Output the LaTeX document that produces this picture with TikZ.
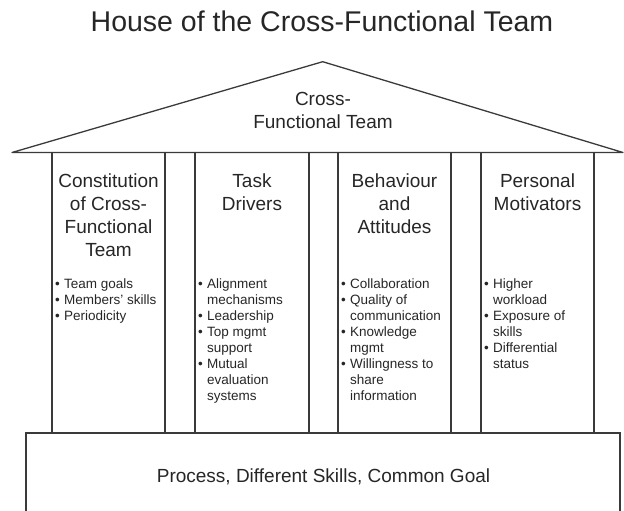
\documentclass[tikz,border=0pt]{standalone}
\usepackage{fontspec}
\setmainfont{Liberation Sans}
\definecolor{linegray}{HTML}{3A3A3A}
\definecolor{textgray}{HTML}{262626}
\newcommand\bitem{\makebox[9pt][l]{\textbullet}}
\newcommand\bcont{\hspace*{9pt}}
\begin{document}
\begin{tikzpicture}[x=1pt,y=-1pt,
  houseline/.style={draw=linegray, line width=1.3pt, line join=round},
  heading/.style={font=\fontsize{19}{23}\selectfont, align=center, inner sep=0pt, anchor=north, text=textgray},
  bullets/.style={font=\fontsize{13.5}{16}\selectfont, align=left, inner sep=0pt, anchor=north west, text=textgray},
  titletext/.style={font=\fontsize{28.5}{34}\selectfont, inner sep=0pt, anchor=base, text=textgray},
  basetext/.style={font=\fontsize{19}{23}\selectfont, inner sep=0pt, anchor=base, text=textgray}]
\useasboundingbox (0,0) rectangle (624,511);

% title
\node[titletext] (title) at (322,32) {House of the Cross-Functional Team};

% roof
\coordinate (roofL) at (12,152.5);
\coordinate (apex) at (322.7,61.7);
\coordinate (roofR) at (623,152.5);
\draw[houseline] (roofL) -- (apex) -- (roofR) -- cycle;
\node[heading] (roof) at (323,88.9) {\strut Cross-\\Functional Team};

% columns
\foreach \xl/\xr in {52/165, 195/309, 338/451, 481/594}{
  \draw[houseline] (\xl,152.5) -- (\xl,433);
  \draw[houseline] (\xr,152.5) -- (\xr,433);
}

% base
\coordinate (bL) at (26,512);
\coordinate (bTL) at (26,433);
\coordinate (bTR) at (620,433);
\coordinate (bR) at (620,512);
\draw[houseline, line join=miter] (bL) -- (bTL) -- (bTR) -- (bR);
\node[basetext] (base) at (323.5,482) {Process, Different Skills, Common Goal};

% column headings
\node[heading] (h1) at (108.5,170.9) {\strut Constitution\\of Cross-\\Functional\\Team};
\node[heading] (h2) at (252,170.9) {\strut Task\\Drivers};
\node[heading] (h3) at (394.5,170.9) {\strut Behaviour\\and\\Attitudes};
\node[heading] (h4) at (537.5,170.9) {\strut Personal\\Motivators};

% bullet lists
\node[bullets] (b1) at (55,276.8) {\strut\bitem Team goals\\\bitem Members’ skills\\\bitem Periodicity};
\node[bullets] (b2) at (198,276.8) {\strut\bitem Alignment\\\bcont mechanisms\\\bitem Leadership\\\bitem Top mgmt\\\bcont support\\\bitem Mutual\\\bcont evaluation\\\bcont systems};
\node[bullets] (b3) at (341,276.8) {\strut\bitem Collaboration\\\bitem Quality of\\\bcont communication\\\bitem Knowledge\\\bcont mgmt\\\bitem Willingness to\\\bcont share\\\bcont information};
\node[bullets] (b4) at (484,276.8) {\strut\bitem Higher\\\bcont workload\\\bitem Exposure of\\\bcont skills\\\bitem Differential\\\bcont status};
\end{tikzpicture}
\end{document}
